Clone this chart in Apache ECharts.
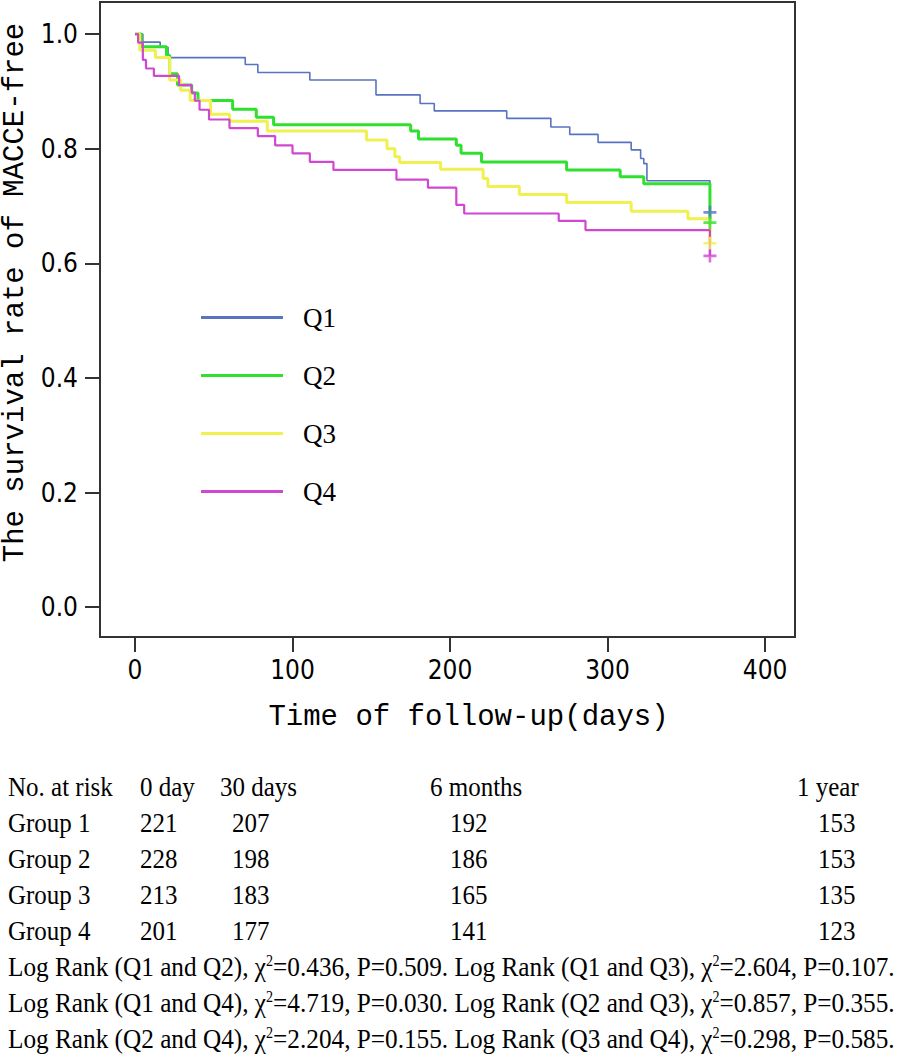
<!DOCTYPE html>
<html><head><meta charset="utf-8">
<script src="https://cdn.jsdelivr.net/npm/echarts@6/dist/echarts.min.js"></script>
<style>html,body{margin:0;padding:0;background:#fff}#c{width:898px;height:1054px}</style>
</head><body><div id="c"></div>
<script>
// ---- data ----
const groups = ['Q1', 'Q2', 'Q3', 'Q4'];
const q1 = [[0,1.0],[5,0.986],[16,0.977],[21,0.959],[70,0.947],[78,0.933],[111,0.920],[153,0.894],[181,0.879],[190,0.866],[236,0.853],[264,0.838],[276,0.825],[294,0.811],[315,0.798],[321,0.783],[323,0.774],[325,0.744],[365,0.689]];
const q2 = [[0,1.0],[4,0.978],[20,0.963],[22,0.931],[27,0.911],[36,0.897],[40,0.884],[62,0.869],[77,0.855],[88,0.842],[175,0.831],[180,0.817],[204,0.806],[207,0.792],[220,0.777],[274,0.763],[308,0.751],[323,0.739],[365,0.671]];
const q3 = [[0,1.0],[3,0.972],[13,0.959],[22,0.920],[29,0.902],[35,0.884],[48,0.860],[60,0.848],[84,0.831],[147,0.815],[160,0.800],[165,0.786],[168,0.776],[194,0.764],[221,0.748],[224,0.734],[244,0.720],[274,0.706],[315,0.691],[351,0.678],[365,0.635]];
const q4 = [[0,1.0],[2,0.985],[5,0.955],[7,0.940],[12,0.927],[28,0.911],[36,0.898],[38,0.884],[41,0.868],[47,0.851],[60,0.836],[78,0.822],[89,0.806],[100,0.792],[111,0.777],[126,0.763],[166,0.746],[186,0.732],[204,0.702],[209,0.687],[269,0.674],[286,0.658],[365,0.613]];
const censorTime = 365;
const censorSurv = [0.689, 0.671, 0.635, 0.613];
const xTicks = [0, 100, 200, 300, 400];
const yTicks = [0, 0.2, 0.4, 0.6, 0.8, 1.0];

const riskHeader = ['No. at risk', '0 day', '30 days', '6 months', '1 year'];
const riskGroups = ['Group 1', 'Group 2', 'Group 3', 'Group 4'];
const risk0d = [221, 228, 213, 201];
const risk30d = [207, 198, 183, 177];
const risk6m = [192, 186, 165, 141];
const risk1y = [153, 153, 135, 123];

const lrPairs = ['Q1 and Q2', 'Q1 and Q3', 'Q1 and Q4', 'Q2 and Q3', 'Q2 and Q4', 'Q3 and Q4'];
const lrChi = ['0.436', '2.604', '4.719', '0.857', '2.204', '0.298'];
const lrP = ['0.509', '0.107', '0.030', '0.355', '0.155', '0.585'];

// ---- styles ----
const colors = ['#5873c2', '#2fe02f', '#f0f050', '#d048d0'];
const widths = [1.6, 3, 3, 2.2];
const serif = '"Liberation Serif", "Times New Roman", serif';
const mono = '"Liberation Mono", "Courier New", monospace';
const narrow = '"Liberation Sans Narrow", "DejaVu Sans Condensed", "Liberation Sans", sans-serif';

const series = [q1, q2, q3, q4].map((d, i) => ({
  name: groups[i], type: 'line', step: 'end', symbol: 'none', data: d,
  color: colors[i], lineStyle: { color: colors[i], width: widths[i] }, z: 2 + i
}));
series.push({
  name: 'censored', type: 'scatter', z: 10,
  symbol: 'path://M4,0h2v4h4v2h-4v4h-2v-4h-4v-2h4z', symbolSize: 13,
  data: censorSurv.map((v, i) => ({ value: [censorTime, v], itemStyle: { color: colors[i] } }))
});

// table graphics
const graphics = [];
const colX = [8, 140, 220, 430, 797];
const valX = [8, 140, 232, 450, 818];
const rowY0 = 787, rowH = 36;
const tstyle = (t) => ({ text: t, font: '25px ' + serif, fill: '#000', verticalAlign: 'middle', align: 'left' });
riskHeader.forEach((h, j) => graphics.push({ type: 'text', x: colX[j], y: rowY0, scaleY: 1.12, style: tstyle(h) }));
riskGroups.forEach((g, i) => {
  const vals = [g, risk0d[i], risk30d[i], risk6m[i], risk1y[i]];
  vals.forEach((v, j) => graphics.push({ type: 'text', x: valX[j], y: rowY0 + rowH * (i + 1), scaleY: 1.12, style: tstyle(String(v)) }));
});
for (let k = 0; k < 3; k++) {
  const parts = [];
  for (let m = 0; m < 2; m++) {
    const idx = k * 2 + m;
    parts.push('Log Rank (' + lrPairs[idx] + '), χ{sup|2}=' + lrChi[idx] + ', P=' + lrP[idx] + '.');
  }
  graphics.push({
    type: 'text', x: 8, y: rowY0 + rowH * (5 + k), scaleY: 1.12, scaleX: 1.01,
    style: {
      text: parts.join(' '), font: '25px ' + serif, fill: '#000', verticalAlign: 'middle', align: 'left',
      rich: { sup: { fontSize: 14, fontFamily: serif, verticalAlign: 'top', fill: '#000', lineHeight: 25 } }
    }
  });
}

const chart = echarts.init(document.getElementById('c'), null, { renderer: 'svg' });
chart.setOption({
  animation: false,
  backgroundColor: '#fff',
  grid: { left: 100, top: 2, width: 695, height: 635, show: true, borderColor: '#333', borderWidth: 2, backgroundColor: 'transparent', containLabel: false, outerBoundsMode: 'none' },
  legend: {
    orient: 'vertical', left: 196, top: 299, itemWidth: 82, itemHeight: 3, itemGap: 31, icon: 'rect',
    selectedMode: false, data: groups,
    textStyle: { fontFamily: serif, fontSize: 27, color: '#000', padding: [0, 0, 0, 15] }
  },
  xAxis: {
    type: 'value', min: -22.2, max: 419,
    name: 'Time of follow-up(days)', nameLocation: 'middle', nameGap: 66,
    nameTextStyle: { fontFamily: mono, fontSize: 29, color: '#000', padding: [0, 0, 0, 42] },
    axisLine: { show: false, onZero: false },
    axisTick: { show: true, length: 15, customValues: xTicks, lineStyle: { color: '#333', width: 2 } },
    axisLabel: { customValues: xTicks, margin: 20, fontFamily: narrow, fontSize: 26, color: '#000' },
    splitLine: { show: false }
  },
  yAxis: {
    type: 'value', min: -0.052, max: 1.056,
    name: 'The survival rate of MACCE-free', nameLocation: 'middle', nameGap: 61,
    nameTextStyle: { fontFamily: mono, fontSize: 29, color: '#000', padding: [0, 0, 0, 54] },
    axisLine: { show: false, onZero: false },
    axisTick: { show: true, length: 15, customValues: yTicks, lineStyle: { color: '#333', width: 2 } },
    axisLabel: { customValues: yTicks, margin: 22, fontFamily: narrow, fontSize: 26, color: '#000', formatter: v => v.toFixed(1) },
    splitLine: { show: false }
  },
  series: series,
  graphic: graphics
});
</script>
</body></html>
